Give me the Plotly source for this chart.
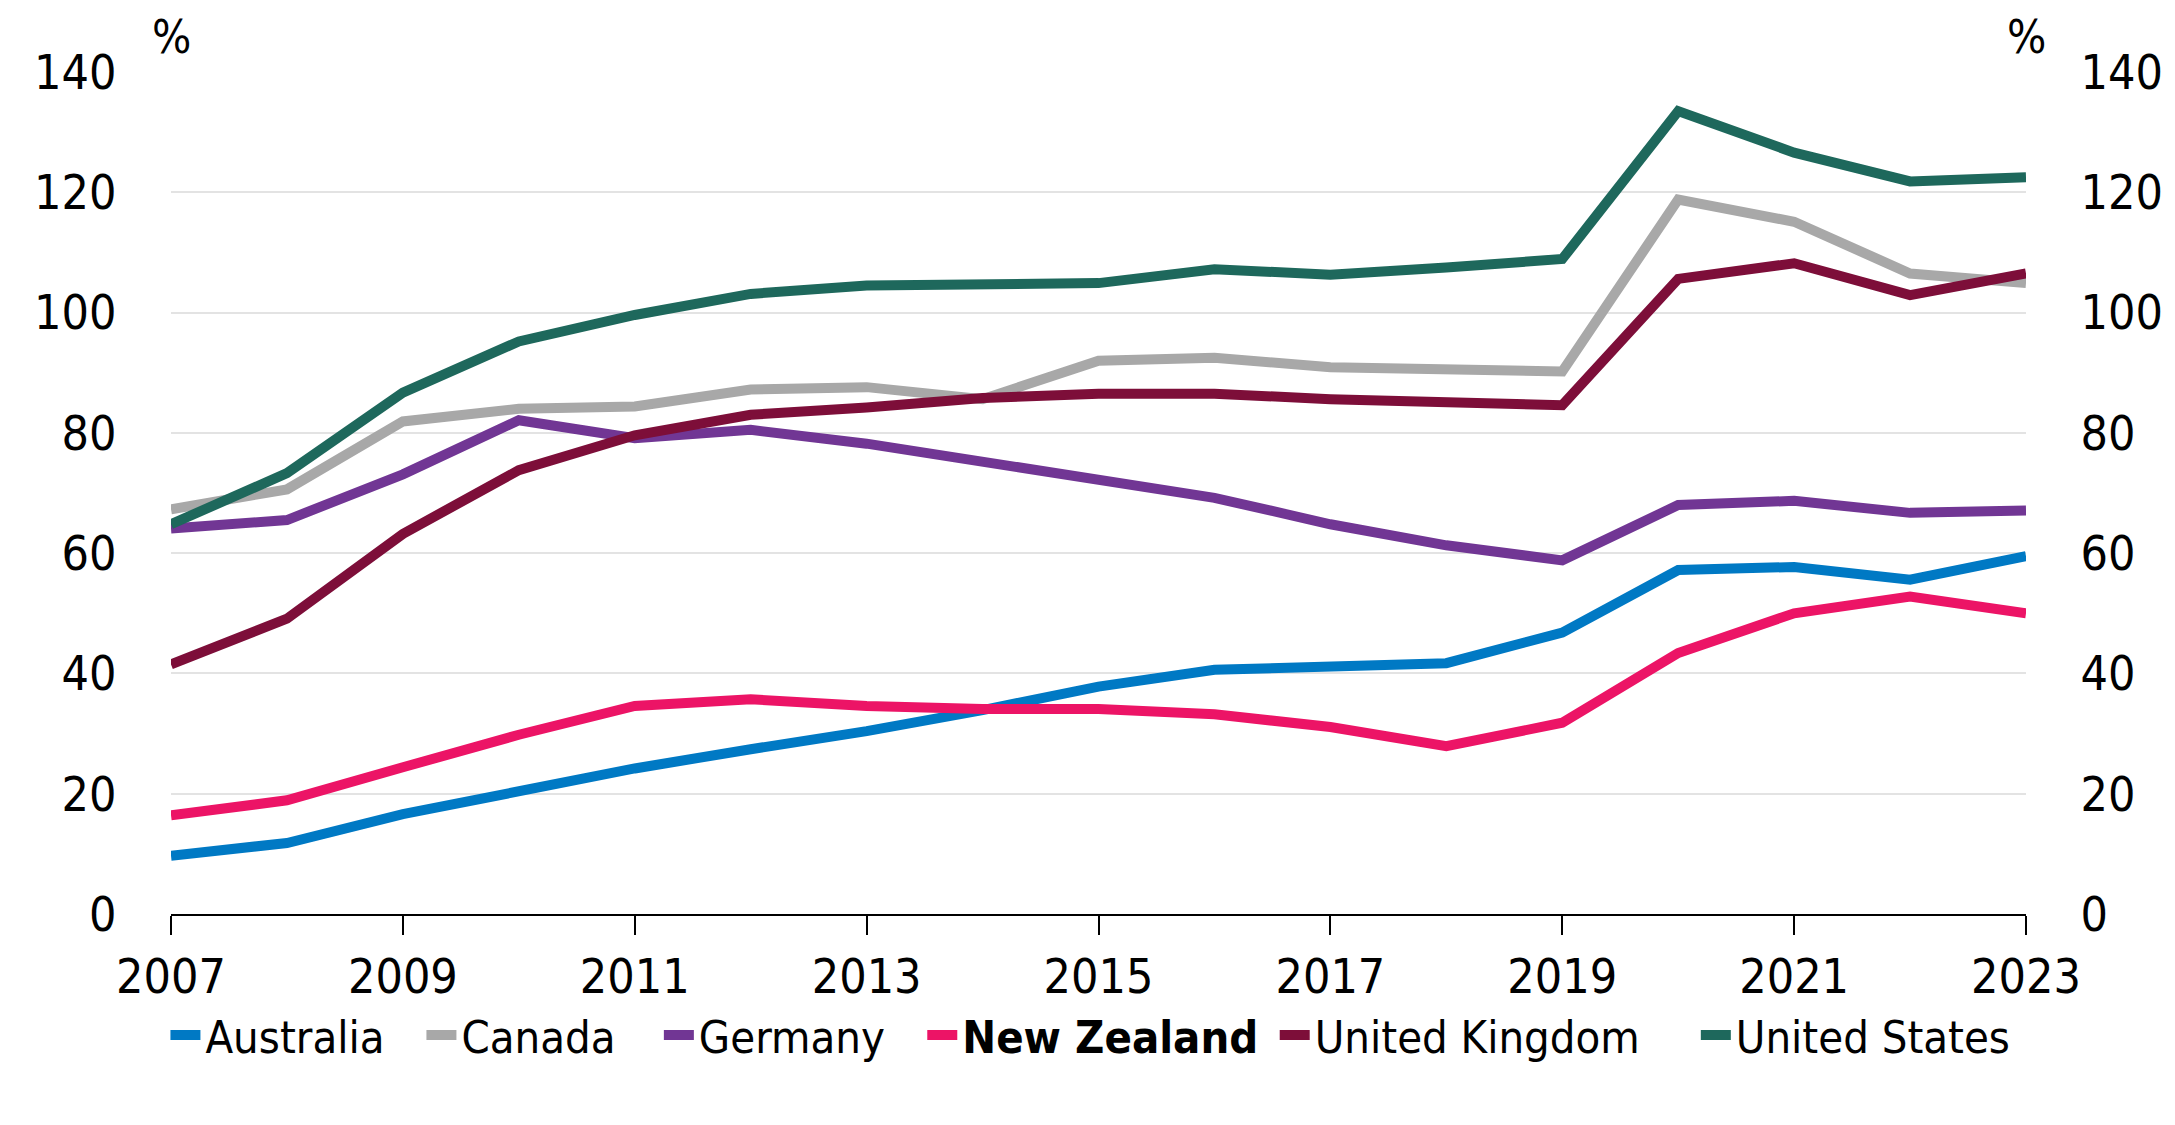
import plotly.graph_objects as go

years = list(range(2007, 2024))

australia = [9.7, 11.8, 16.6, 20.5, 24.2, 27.4, 30.4, 33.9, 37.8, 40.6, 41.1, 41.7, 46.8, 57.2, 57.7, 55.6, 59.5]
canada = [67.3, 70.6, 81.9, 84.0, 84.4, 87.2, 87.6, 85.6, 92.0, 92.5, 90.9, 90.6, 90.2, 118.8, 115.1, 106.5, 104.9]
germany = [64.1, 65.5, 73.1, 82.1, 79.1, 80.5, 78.2, 75.2, 72.0, 69.2, 64.8, 61.3, 58.8, 68.0, 68.7, 66.7, 67.1]
new_zealand = [16.4, 18.9, 24.4, 29.8, 34.6, 35.7, 34.6, 34.1, 34.1, 33.2, 31.1, 27.9, 31.8, 43.4, 50.0, 52.8, 50.0]
united_kingdom = [41.5, 49.1, 63.2, 73.8, 79.6, 83.0, 84.2, 85.8, 86.5, 86.5, 85.6, 85.1, 84.6, 105.6, 108.2, 102.9, 106.5]
united_states = [64.8, 73.3, 86.7, 95.2, 99.6, 103.1, 104.5, 104.5, 104.9, 107.2, 106.3, 107.5, 108.9, 133.5, 126.6, 121.8, 122.5]

names = ["Australia", "Canada", "Germany", "<b>New Zealand</b>", "United Kingdom", "United States"]
values = [australia, canada, germany, new_zealand, united_kingdom, united_states]
colors = ["#0079C4", "#A8A8A8", "#713694", "#EC1466", "#7D0E39", "#1E685C"]
# left edge (paper fraction) of each legend entry
legend_x = [-0.003, 0.135, 0.263, 0.405, 0.595, 0.822]

y_ticks = [0, 20, 40, 60, 80, 100, 120, 140]
x_ticks = list(range(2007, 2024, 2))

FONT = "DejaVu Sans Condensed, Open Sans, sans-serif"

fig = go.Figure()
for i, (name, vals, color) in enumerate(zip(names, values, colors)):
    lg = "legend" if i == 0 else f"legend{i + 1}"
    fig.add_trace(go.Scatter(x=years, y=vals, name=name, mode="lines", legend=lg,
                             line=dict(color=color, width=10)))
# invisible trace to activate the right axis
fig.add_trace(go.Scatter(x=[years[0]], y=[0], yaxis="y2", showlegend=False,
                         mode="markers", marker=dict(opacity=0), hoverinfo="skip"))

legend_style = dict(orientation="h", xanchor="left", y=-0.144, yanchor="middle",
                    font=dict(family=FONT, size=45, color="#000000"),
                    itemwidth=30, bgcolor="rgba(0,0,0,0)")
legends = {}
for i, lx in enumerate(legend_x):
    key = "legend" if i == 0 else f"legend{i + 1}"
    legends[key] = dict(legend_style, x=lx)

fig.update_layout(
    width=2175, height=1125,
    margin=dict(l=171, r=149, t=72, b=211, autoexpand=False),
    plot_bgcolor="white", paper_bgcolor="white",
    font=dict(family=FONT, size=48, color="#000000"),
    showlegend=True,
    xaxis=dict(range=[2007, 2023], tickvals=x_ticks, ticktext=[str(v) for v in x_ticks],
               showgrid=False, zeroline=False, showline=True, linecolor="#000000", linewidth=2,
               ticks="outside", ticklen=19, tickwidth=1.5, tickcolor="#000000",
               tickfont=dict(family=FONT, size=48), automargin=False),
    yaxis=dict(range=[0, 140], tickvals=y_ticks, showgrid=True, gridcolor="#E3E3E3", gridwidth=1.5,
               zeroline=False, showline=False, ticks="outside", ticklen=44,
               tickcolor="rgba(0,0,0,0)", tickfont=dict(family=FONT, size=48), automargin=False),
    yaxis2=dict(range=[0, 140], tickvals=y_ticks, overlaying="y", side="right", anchor="x",
                showgrid=False, zeroline=False, showline=False, ticks="outside", ticklen=44,
                tickcolor="rgba(0,0,0,0)", tickfont=dict(family=FONT, size=48), automargin=False),
    annotations=[
        dict(text="%", xref="paper", yref="paper", x=0, y=1, xanchor="center", yanchor="bottom",
             yshift=6, showarrow=False, font=dict(family=FONT, size=46)),
        dict(text="%", xref="paper", yref="paper", x=1, y=1, xanchor="center", yanchor="bottom",
             yshift=6, showarrow=False, font=dict(family=FONT, size=46)),
    ],
    **legends,
)

fig.write_html("out.html")
